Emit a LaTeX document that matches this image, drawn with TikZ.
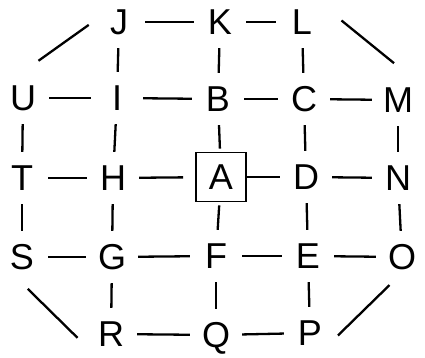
\documentclass[tikz,border=0pt]{standalone}
\usepackage{fontspec}
\setmainfont{Liberation Sans}
\begin{document}
\begin{tikzpicture}[x=1pt,y=-1pt,
  lbl/.style={circle,minimum size=52pt,inner sep=0pt,text height=25.5pt,text depth=0pt,font=\fontsize{36}{36}\selectfont},
  boxed/.style={draw,line width=1.8pt,minimum width=50pt,minimum height=49pt,inner sep=0pt,text height=25.5pt,text depth=0pt,font=\fontsize{36}{36}\selectfont},
  edge/.style={line width=2.3pt}]
\useasboundingbox (0,0) rectangle (425,358);
% row 1
\node[lbl] (J) at (119,22) {J};
\node[lbl] (K) at (220,22) {K};
\node[lbl] (L) at (302,22) {L};
% row 2
\node[lbl] (U) at (23,98) {U};
\node[lbl] (I) at (117,98) {I};
\node[lbl] (B) at (218,99) {B};
\node[lbl] (C) at (304,99) {C};
\node[lbl] (M) at (398,100) {M};
% row 3
\node[lbl] (T) at (22,178) {T};
\node[lbl] (H) at (113,178) {H};
\node[boxed] (A) at (221,177) {A};
\node[lbl] (D) at (306,177) {D};
\node[lbl] (N) at (398,178) {N};
% row 4
\node[lbl] (S) at (22,257) {S};
\node[lbl] (G) at (112,257) {G};
\node[lbl] (F) at (216,256) {F};
\node[lbl] (E) at (308,256) {E};
\node[lbl] (O) at (402,257) {O};
% row 5
\node[lbl] (R) at (111,334) {R};
\node[lbl] (Q) at (216,335) {Q};
\node[lbl] (P) at (310,333) {P};
% horizontal edges
\draw[edge] (J) -- (K);
\draw[edge] (K) -- (L);
\draw[edge] (U) -- (I);
\draw[edge] (I) -- (B);
\draw[edge] (B) -- (C);
\draw[edge] (C) -- (M);
\draw[edge] (T) -- (H);
\draw[edge,shorten >=12pt] (H) -- (A);
\draw[edge] (A) -- (D);
\draw[edge] (D) -- (N);
\draw[edge] (S) -- (G);
\draw[edge] (G) -- (F);
\draw[edge] (F) -- (E);
\draw[edge] (E) -- (O);
\draw[edge] (R) -- (Q);
\draw[edge] (Q) -- (P);
% vertical edges
\draw[edge] (J) -- (I);
\draw[edge] (K) -- (B);
\draw[edge] (L) -- (C);
\draw[edge] (U) -- (T);
\draw[edge] (I) -- (H);
\draw[edge,shorten >=3pt] (B) -- (A);
\draw[edge] (C) -- (D);
\draw[edge] (M) -- (N);
\draw[edge] (T) -- (S);
\draw[edge] (H) -- (G);
\draw[edge,shorten <=3pt] (A) -- (F);
\draw[edge] (D) -- (E);
\draw[edge] (N) -- (O);
\draw[edge] (G) -- (R);
\draw[edge] (F) -- (Q);
\draw[edge] (E) -- (P);
% diagonal edges
\draw[edge,shorten <=19pt,shorten >=5pt] (U.north) -- (J.west);
\draw[edge,shorten <=27pt,shorten >=29pt] (L.north east) -- (M.north east);
\draw[edge,shorten <=8pt,shorten >=21pt] (S.south) -- (R.south west);
\draw[edge,shorten <=3pt,shorten >=5pt] (P.-10) -- (O.-110);
\end{tikzpicture}
\end{document}
